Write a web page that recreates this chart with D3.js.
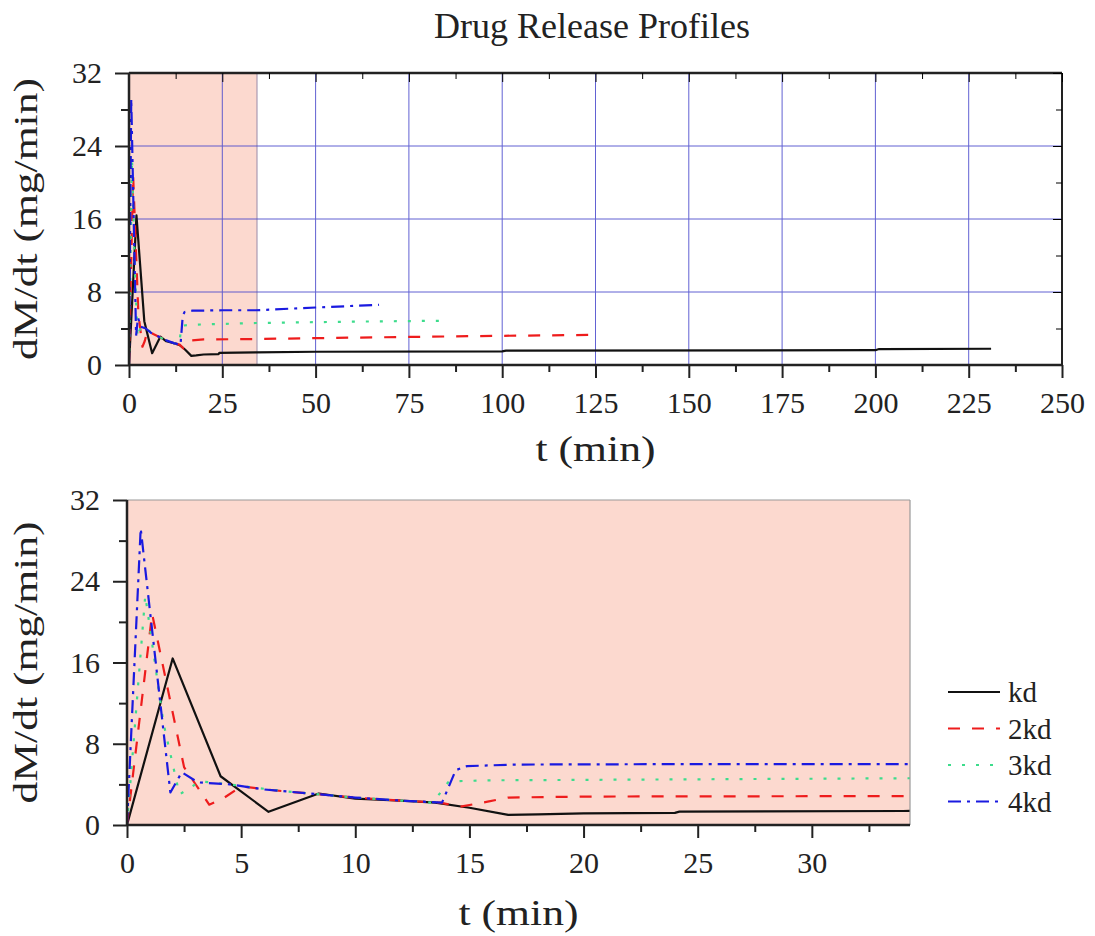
<!DOCTYPE html>
<html>
<head>
<meta charset="utf-8">
<script src="https://cdn.jsdelivr.net/npm/d3@7"></script>
<style>
  body { margin: 0; background: #fff; }
  text { font-family: "Liberation Serif", "Times New Roman", serif; fill: #222; }
</style>
</head>
<body>
<svg id="chart" width="1095" height="936"></svg>
<script>
// Release-rate series (t in min, dM/dt in mg/min)
const seriesNames = ["kd", "2kd", "3kd", "4kd"];

const kdT = [0, 2.0, 4.1, 6.2, 8.4, 10, 12, 13.5, 15, 16.7, 18, 20, 24, 24.2, 34, 50, 100, 101, 200, 201, 231];
const kdV = [0, 16.4, 4.8, 1.3, 3.1, 2.6, 2.4, 2.2, 1.7, 1.0, 1.05, 1.15, 1.2, 1.32, 1.38, 1.45, 1.5, 1.58, 1.62, 1.75, 1.78];

const kd2T = [0, 1.1, 2.5, 3.6, 4.2, 5, 6.5, 8, 10, 12, 13.7, 14.6, 15.8, 16.7, 20, 34, 60, 100, 124];
const kd2V = [0, 20.8, 5.7, 2.0, 2.6, 3.8, 3.4, 3.1, 2.7, 2.4, 2.2, 1.8, 2.3, 2.7, 2.8, 2.85, 3.0, 3.2, 3.3];

const kd3T = [0, 0.8, 1.6, 2.3, 3.2, 4.5, 5.5, 7, 8.5, 10, 12, 13.4, 14.1, 16, 34, 60, 84];
const kd3V = [0, 22.6, 10, 3.0, 4.3, 4.0, 3.7, 3.3, 3.0, 2.7, 2.4, 2.2, 4.3, 4.4, 4.6, 4.75, 4.85];

const kd4T = [0, 0.6, 1.9, 2.4, 3.1, 4.5, 6, 8, 10, 12, 13.8, 14.4, 14.9, 17, 25, 34, 50, 67];
const kd4V = [0, 29.2, 3.2, 5.2, 4.2, 4.0, 3.5, 3.1, 2.7, 2.4, 2.2, 5.4, 5.8, 5.95, 6.0, 6.0, 6.3, 6.6];

// Axis ticks
const yTicks = [0, 8, 16, 24, 32];
const yMinorTicks = [4, 12, 20, 28];
const topXTicks = [0, 25, 50, 75, 100, 125, 150, 175, 200, 225, 250];
const topXMinor = [12.5, 37.5, 62.5, 87.5, 112.5, 137.5, 162.5, 187.5, 212.5, 237.5];
const zoomXTicks = [0, 5, 10, 15, 20, 25, 30];
const zoomXMinor = [2.5, 7.5, 12.5, 17.5, 22.5, 27.5, 32.5];

// Time window shown magnified in the lower panel
const zoomWindow = [0, 34.3];

const titleText = "Drug Release Profiles";
const xTitle = "t (min)";
const yTitle = "dM/dt (mg/min)";

// Line styles per series
const styles = [
  { color: "#111111", dash: null },
  { color: "#ee1c1c", dash: "12,12" },
  { color: "#3ddc8c", dash: "3,11" },
  { color: "#1a1ae0", dash: "13,6,3,6" }
];

const seriesData = [
  d3.zip(kdT, kdV),
  d3.zip(kd2T, kd2V),
  d3.zip(kd3T, kd3V),
  d3.zip(kd4T, kd4V)
];

const svg = d3.select("#chart");
const shadeColor = "#fcd9cf";

svg.append("text")
  .attr("x", 592).attr("y", 38)
  .attr("text-anchor", "middle")
  .attr("font-size", 36)
  .text(titleText);

function drawPanel(opt) {
  const { left, right, top, bottom, xDomain, xTicks, xMinor, id } = opt;
  const x = d3.scaleLinear().domain(xDomain).range([left, right]);
  const y = d3.scaleLinear().domain([0, 32]).range([bottom, top]);
  const g = svg.append("g");

  g.append("clipPath").attr("id", id)
    .append("rect").attr("x", left).attr("y", top)
    .attr("width", right - left).attr("height", bottom - top);

  // magnified-window shading
  g.append("rect")
    .attr("x", x(zoomWindow[0]))
    .attr("y", top)
    .attr("width", Math.min(x(zoomWindow[1]), right) - x(zoomWindow[0]))
    .attr("height", bottom - top)
    .attr("fill", shadeColor)
    .attr("stroke", opt.grid ? "#9a8aa8" : "none")
    .attr("stroke-width", 1);

  if (opt.grid) {
    const grid = g.append("g").attr("stroke", "#4747cc").attr("stroke-width", 1).attr("opacity", 0.85);
    grid.selectAll("line.v").data(xTicks.slice(1, -1)).join("line")
      .attr("x1", d => x(d)).attr("x2", d => x(d))
      .attr("y1", top).attr("y2", bottom);
    grid.selectAll("line.h").data(yTicks.slice(1, -1)).join("line")
      .attr("x1", left).attr("x2", right)
      .attr("y1", d => y(d)).attr("y2", d => y(d));
  }

  const line = d3.line().x(d => x(d[0])).y(d => y(d[1]));
  const lines = g.append("g").attr("clip-path", `url(#${id})`);
  seriesData.forEach((data, i) => {
    lines.append("path")
      .datum(data)
      .attr("d", line)
      .attr("fill", "none")
      .attr("stroke", styles[i].color)
      .attr("stroke-width", 2.2)
      .attr("stroke-dasharray", styles[i].dash)
      .attr("stroke-linejoin", "round");
  });

  // frame
  const frameColor = opt.grid ? "#222" : "#999";
  g.append("line").attr("x1", left).attr("x2", right).attr("y1", top).attr("y2", top)
    .attr("stroke", frameColor).attr("stroke-width", opt.grid ? 2.5 : 1.2);
  g.append("line").attr("x1", right).attr("x2", right).attr("y1", top).attr("y2", bottom)
    .attr("stroke", frameColor).attr("stroke-width", opt.grid ? 2 : 1.2);

  if (opt.grid) {
    // mirrored inward ticks on top and right
    g.append("g").attr("transform", `translate(0,${top})`)
      .call(d3.axisBottom(x).tickValues(xTicks).tickSize(9).tickFormat("").tickSizeOuter(0))
      .call(a => a.select(".domain").remove());
    g.append("g").attr("transform", `translate(0,${top})`)
      .call(d3.axisBottom(x).tickValues(xMinor).tickSize(6).tickFormat("").tickSizeOuter(0))
      .call(a => a.select(".domain").remove());
    g.append("g").attr("transform", `translate(${right},0)`)
      .call(d3.axisLeft(y).tickValues(yTicks).tickSize(9).tickFormat("").tickSizeOuter(0))
      .call(a => a.select(".domain").remove());
    g.append("g").attr("transform", `translate(${right},0)`)
      .call(d3.axisLeft(y).tickValues(yMinorTicks).tickSize(6).tickFormat("").tickSizeOuter(0))
      .call(a => a.select(".domain").remove());
  }

  // bottom axis
  const xa = g.append("g").attr("transform", `translate(0,${bottom})`)
    .call(d3.axisBottom(x).tickValues(xTicks).tickSize(13).tickPadding(14).tickSizeOuter(0));
  xa.select(".domain").attr("stroke-width", 2.5).attr("stroke", "#222")
    .attr("d", `M${left},0H${right}`);
  xa.selectAll(".tick line").attr("stroke-width", 2).attr("stroke", "#222");
  xa.selectAll("text").attr("font-size", 30).attr("fill", "#222");
  g.append("g").attr("transform", `translate(0,${bottom})`)
    .call(d3.axisBottom(x).tickValues(xMinor).tickSize(7).tickFormat("").tickSizeOuter(0))
    .call(a => a.select(".domain").remove())
    .selectAll(".tick line").attr("stroke-width", 2).attr("stroke", "#222");

  // left axis
  const ya = g.append("g").attr("transform", `translate(${left},0)`)
    .call(d3.axisLeft(y).tickValues(yTicks).tickSize(14).tickPadding(13).tickSizeOuter(0));
  ya.select(".domain").attr("stroke-width", 2.5).attr("stroke", "#222")
    .attr("d", `M0,${top}V${bottom}`);
  ya.selectAll(".tick line").attr("stroke-width", 2).attr("stroke", "#222");
  ya.selectAll("text").attr("font-size", 30).attr("fill", "#222");
  g.append("g").attr("transform", `translate(${left},0)`)
    .call(d3.axisLeft(y).tickValues(yMinorTicks).tickSize(8).tickFormat("").tickSizeOuter(0))
    .call(a => a.select(".domain").remove())
    .selectAll(".tick line").attr("stroke-width", 2).attr("stroke", "#222");

  // axis titles
  g.append("text")
    .attr("x", (left + right) / 2).attr("y", opt.xTitleY)
    .attr("text-anchor", "middle")
    .attr("font-size", 36)
    .attr("textLength", 120).attr("lengthAdjust", "spacingAndGlyphs")
    .text(xTitle);
  g.append("text")
    .attr("transform", `translate(37,${(top + bottom) / 2}) rotate(-90)`)
    .attr("text-anchor", "middle")
    .attr("font-size", 34)
    .attr("textLength", 282).attr("lengthAdjust", "spacingAndGlyphs")
    .text(yTitle);

  return { x, y };
}

drawPanel({
  id: "clipTop", left: 129, right: 1062, top: 73, bottom: 365,
  xDomain: [0, 250], xTicks: topXTicks, xMinor: topXMinor,
  grid: true, xTitleY: 461
});

drawPanel({
  id: "clipBottom", left: 127, right: 910, top: 500, bottom: 825,
  xDomain: zoomWindow, xTicks: zoomXTicks, xMinor: zoomXMinor,
  grid: false, xTitleY: 925
});

// legend
const legend = svg.append("g").attr("transform", "translate(948,692)");
seriesNames.forEach((name, i) => {
  const row = legend.append("g").attr("transform", `translate(0,${i * 36.5})`);
  row.append("line")
    .attr("x1", 0).attr("x2", 52).attr("y1", 0).attr("y2", 0)
    .attr("stroke", styles[i].color).attr("stroke-width", 2.2)
    .attr("stroke-dasharray", styles[i].dash);
  row.append("text")
    .attr("x", 60).attr("y", 10)
    .attr("font-size", 29)
    .text(name);
});
</script>
</body>
</html>
